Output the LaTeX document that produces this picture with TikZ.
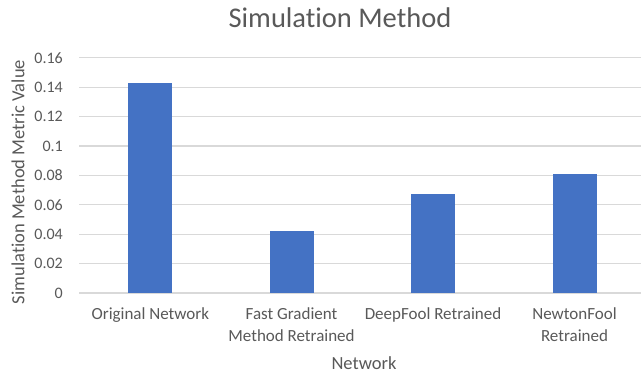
\documentclass[tikz,border=0pt]{standalone}
\usepackage{fontspec}
\setmainfont{Carlito}[Ligatures=NoCommon]
\definecolor{bar}{HTML}{4472C4}
\definecolor{grid}{HTML}{D9D9D9}
\definecolor{txt}{HTML}{595959}
\begin{document}
\begin{tikzpicture}[x=1pt,y=-1pt,
  tick/.style={anchor=east,inner sep=0pt,text=txt,font=\fontsize{16}{19}\selectfont},
  cat/.style={anchor=north,inner sep=0pt,text=txt,align=center,font=\fontsize{17}{21.5}\selectfont},
  axtitle/.style={inner sep=0pt,text=txt,font=\fontsize{18.5}{22}\selectfont},
  barfill/.style={fill=bar}]
\useasboundingbox (0,0) rectangle (641,377);
\fill[white] (0,0) rectangle (641,377);
% gridlines and labels
\foreach \v/\l in {0/0,0.02/0.02,0.04/0.04,0.06/0.06,0.08/0.08,0.1/0.1,0.12/0.12,0.14/0.14,0.16/0.16}{
  \draw[grid,line width=1.2pt] (79,{293-\v*1470}) -- (641,{293-\v*1470});
  \node[tick] (t\l) at (63,{293-\v*1470}) {\l};
}
% bars
\foreach \c/\v in {150.3/0.1429,291.5/0.0424,433/0.0671,574.5/0.0810}{
  \fill[barfill] (\c-22,293) rectangle (\c+22,{293-\v*1470});
}
% category labels
\node[cat] (c1) at (150.3,307.5) {Original Network};
\node[cat] (c2) at (291.5,307.5) {Fast Gradient\\Method Retrained};
\node[cat] (c3) at (433,307.5) {DeepFool Retrained};
\node[cat] (c4) at (574.5,307.5) {NewtonFool\\Retrained};
% titles
\node[inner sep=0pt,text=txt,font=\fontsize{28.5}{32}\selectfont] (title) at (340,18) {Simulation Method};
\node[axtitle] (xt) at (364,363.5) {Network};
\node[axtitle,rotate=90] (yt) at (18,182) {Simulation Method Metric Value};
\end{tikzpicture}
\end{document}
